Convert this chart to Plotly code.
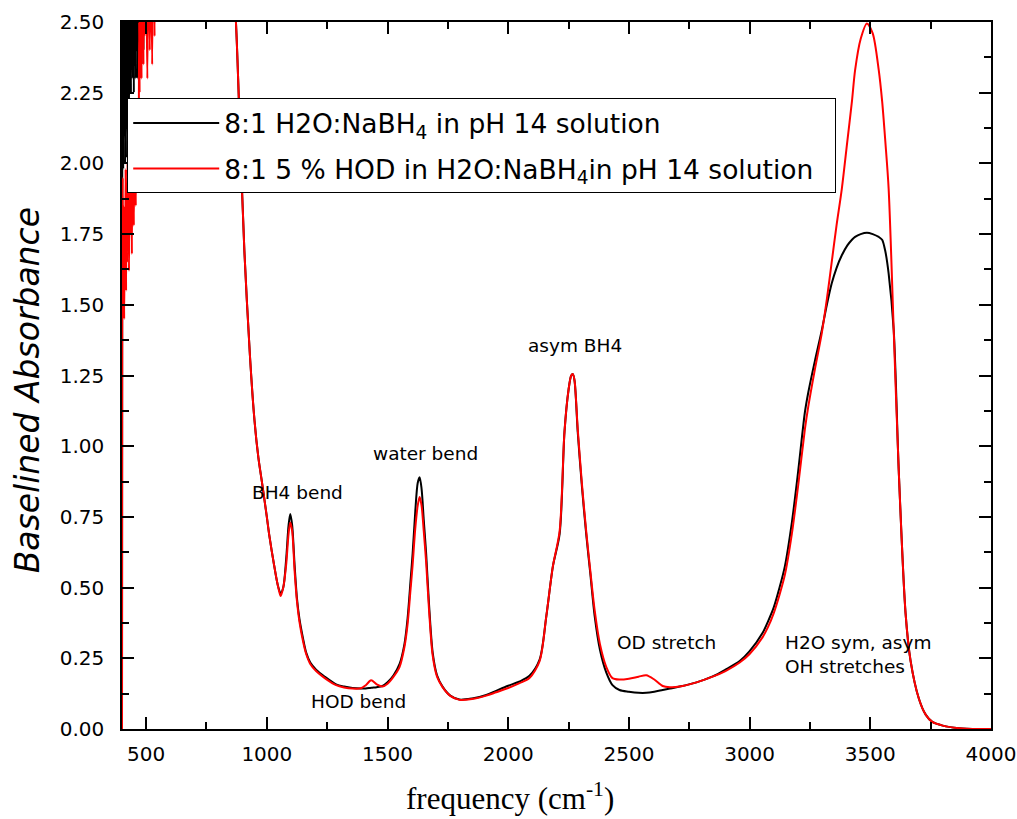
import plotly.graph_objects as go

# ---- data ----
noise_freq = [400, 401, 403, 405, 407, 409, 411, 413, 415, 417, 419, 421, 423, 425, 427, 429,
              431, 433, 435, 437, 439, 441, 443, 445, 447, 449, 451, 453, 455, 457, 459, 461,
              463, 465, 467, 469, 471, 473, 475, 477, 479, 481, 483, 485, 487, 489, 491, 493,
              495, 497, 500, 505, 510, 515, 520, 525, 530, 535, 540, 545, 550]
noise_black = [0.0, 2.05, 2.6, 1.98, 2.7, 2.1, 2.55, 2.0, 2.8, 2.25, 2.6, 2.02, 2.75, 2.3, 2.9, 2.15,
               2.65, 2.4, 2.95, 2.25, 2.7, 2.35, 2.85, 2.3, 3.0, 2.25, 2.8, 2.35, 3.1, 2.3, 2.9, 2.4,
               3.2, 2.3, 3.0, 2.45, 3.1, 2.3, 3.2, 2.4, 3.3, 2.35, 3.0, 2.5, 3.4, 2.4, 3.2, 2.55,
               3.5, 2.6, 3.3, 3.2, 3.4, 3.3, 3.5, 3.4, 3.6, 3.5, 3.6, 3.5, 3.6]
noise_red = [0.0, 1.48, 1.95, 1.52, 1.85, 1.45, 1.75, 1.6, 1.98, 1.55, 1.9, 1.65, 2.0, 1.7, 1.95, 1.62,
             1.9, 1.75, 2.05, 1.8, 1.98, 1.68, 2.1, 1.85, 2.05, 1.78, 2.1, 1.9, 2.15, 1.85, 2.1, 1.95,
             2.15, 1.9, 2.2, 2.0, 2.5, 2.25, 2.7, 2.35, 2.55, 2.3, 2.8, 2.4, 2.6, 2.35, 2.75, 2.45,
             2.9, 2.5, 2.7, 2.3, 2.9, 2.4, 2.8, 2.35, 2.95, 2.45, 3.0, 2.8, 3.2]

main_freq = [560, 700, 850, 872, 890, 907, 930, 949, 965, 982, 1000, 1011, 1030, 1045, 1057, 1068,
             1080, 1090, 1097, 1105, 1115, 1125, 1135, 1150, 1163, 1180, 1204, 1240, 1287, 1320, 1355, 1390,
             1410, 1432, 1455, 1479, 1500, 1525, 1550, 1570, 1583, 1595, 1604, 1615, 1625, 1633, 1641, 1650,
             1660, 1672, 1687, 1705, 1728, 1760, 1798, 1850, 1909, 1950, 2000, 2047, 2088, 2130, 2158, 2185,
             2213, 2233, 2250, 2261, 2268, 2275, 2288, 2305, 2323, 2340, 2358, 2380, 2406, 2432, 2461, 2500,
             2540, 2572, 2605, 2640, 2670, 2710, 2780, 2847, 2900, 2959, 3000, 3054, 3076, 3100, 3124, 3146,
             3175, 3201, 3229, 3243, 3270, 3299, 3320, 3340, 3360, 3382, 3405, 3424, 3437, 3460, 3486, 3510,
             3535, 3549, 3562, 3576, 3597, 3618, 3646, 3667, 3701, 3730, 3757, 3800, 3868, 3950, 4000]
main_black = [3.0, 3.2, 2.8, 2.5, 2.08, 1.69, 1.32, 1.09, 0.96, 0.86, 0.75, 0.68, 0.58, 0.51, 0.48, 0.50,
              0.60, 0.72, 0.76, 0.72, 0.58, 0.46, 0.39, 0.32, 0.27, 0.235, 0.21, 0.185, 0.158, 0.150, 0.145, 0.143,
              0.143, 0.146, 0.148, 0.152, 0.165, 0.19, 0.23, 0.30, 0.39, 0.52, 0.62, 0.77, 0.87, 0.89, 0.85, 0.74,
              0.62, 0.44, 0.27, 0.19, 0.15, 0.118, 0.104, 0.108, 0.12, 0.135, 0.153, 0.168, 0.188, 0.245, 0.40, 0.575,
              0.69, 1.05, 1.20, 1.25, 1.255, 1.23, 1.05, 0.86, 0.69, 0.55, 0.40, 0.28, 0.20, 0.155, 0.138, 0.132,
              0.128, 0.128, 0.132, 0.138, 0.143, 0.15, 0.165, 0.186, 0.21, 0.24, 0.275, 0.34, 0.38, 0.43, 0.50, 0.575,
              0.73, 0.91, 1.12, 1.19, 1.30, 1.41, 1.50, 1.575, 1.63, 1.675, 1.71, 1.73, 1.74, 1.75, 1.755, 1.75,
              1.74, 1.73, 1.69, 1.61, 1.41, 0.91, 0.41, 0.24, 0.108, 0.05, 0.025, 0.012, 0.003, 0.0, 0.0]
main_red = [3.0, 3.2, 2.8, 2.5, 2.08, 1.69, 1.32, 1.09, 0.96, 0.86, 0.75, 0.68, 0.58, 0.51, 0.47, 0.50,
            0.58, 0.69, 0.73, 0.70, 0.56, 0.45, 0.38, 0.31, 0.265, 0.23, 0.205, 0.18, 0.155, 0.147, 0.143, 0.144,
            0.155, 0.172, 0.158, 0.150, 0.160, 0.185, 0.22, 0.29, 0.37, 0.49, 0.58, 0.71, 0.79, 0.82, 0.79, 0.70,
            0.59, 0.42, 0.26, 0.185, 0.148, 0.117, 0.103, 0.106, 0.118, 0.13, 0.145, 0.162, 0.18, 0.24, 0.40, 0.575,
            0.70, 1.05, 1.20, 1.25, 1.255, 1.23, 1.06, 0.87, 0.70, 0.56, 0.42, 0.30, 0.22, 0.18, 0.175, 0.178,
            0.185, 0.19, 0.175, 0.152, 0.148, 0.15, 0.165, 0.185, 0.205, 0.235, 0.265, 0.325, 0.36, 0.41, 0.475, 0.545,
            0.69, 0.86, 1.06, 1.14, 1.27, 1.40, 1.52, 1.65, 1.78, 1.91, 2.08, 2.22, 2.33, 2.44, 2.495, 2.46,
            2.33, 2.22, 2.08, 1.91, 1.41, 0.91, 0.41, 0.24, 0.108, 0.05, 0.025, 0.012, 0.003, 0.0, 0.0]

series_names = ["8:1 H2O:NaBH<sub>4</sub> in pH 14 solution\u00a0\u00a0",
                "8:1 5 % HOD in H2O:NaBH<sub>4</sub>in pH 14 solution\u00a0\u00a0"]
series_colors = ["#000000", "#ff0000"]

peak_labels = ["BH4 bend", "water bend", "HOD bend", "asym BH4", "OD stretch",
               "H2O sym, asym<br>OH stretches"]
peak_label_x = [1127, 1658, 1380, 2275, 2656, 3137]
peak_label_y = [0.838, 0.973, 0.097, 1.355, 0.305, 0.262]
peak_label_anchor = ["center", "center", "center", "center", "center", "left"]

x_ticks = [500, 1000, 1500, 2000, 2500, 3000, 3500, 4000]
y_ticks = [0.0, 0.25, 0.5, 0.75, 1.0, 1.25, 1.5, 1.75, 2.0, 2.25, 2.5]

freq = noise_freq + main_freq
absorb = [noise_black + main_black, noise_red + main_red]

FONT = "DejaVu Sans"

fig = go.Figure()
for i in range(2):
    fig.add_trace(go.Scatter(
        x=freq, y=absorb[i], mode="lines", name=series_names[i],
        legendgroup="g%d" % i,
        line=dict(color=series_colors[i], width=2, shape="spline", smoothing=0.8),
    ))

for txt, xx, yy, anc in zip(peak_labels, peak_label_x, peak_label_y, peak_label_anchor):
    fig.add_annotation(x=xx, y=yy, text=txt, showarrow=False, xanchor=anc, yanchor="middle",
                       align="left", font=dict(family=FONT, size=18.5, color="black"))

# axis titles (placed as in the reference, slightly off-centre)
fig.add_annotation(x=0.4465, y=-0.096, xref="paper", yref="paper", showarrow=False,
                   xanchor="center", yanchor="middle",
                   text="frequency (cm<sup>-1</sup>)",
                   font=dict(family="Liberation Serif", size=31, color="black"))
fig.add_annotation(x=-0.1093, y=0.479, xref="paper", yref="paper", showarrow=False,
                   xanchor="center", yanchor="middle", textangle=-90,
                   text="<i>Baselined Absorbance</i>",
                   font=dict(family=FONT, size=33, color="black"))

axis_common = dict(showline=True, linecolor="black", linewidth=1.5, mirror="allticks",
                   ticks="inside", tickcolor="black", tickwidth=1.5, showgrid=False,
                   zeroline=False, tickfont=dict(family=FONT, size=20, color="black"),
                   automargin=False)

fig.update_xaxes(range=[400, 4000], tickvals=x_ticks, ticklen=12,
                 minor=dict(dtick=250, tick0=0, ticks="inside", ticklen=7, tickcolor="black", tickwidth=1.5),
                 ticklabelstandoff=6,
                 **axis_common)
fig.update_yaxes(range=[0, 2.5], tickvals=y_ticks, tickformat=".2f", ticklen=12,
                 minor=dict(dtick=0.125, tick0=0, ticks="inside", ticklen=7, tickcolor="black", tickwidth=1.5),
                 ticklabelstandoff=12,
                 **axis_common)

fig.update_layout(
    width=1017, height=819,
    margin=dict(l=122, r=26, t=22, b=90),
    paper_bgcolor="white", plot_bgcolor="white",
    font=dict(family=FONT, color="black"),
    legend=dict(x=0.006, y=0.892, xanchor="left", yanchor="top",
                bgcolor="white", bordercolor="black", borderwidth=1,
                font=dict(family=FONT, size=26.5, color="black"),
                itemwidth=86, tracegroupgap=8),
)

fig.write_html("out.html", config={"displayModeBar": False},
               post_script="document.body.style.margin='0';")
